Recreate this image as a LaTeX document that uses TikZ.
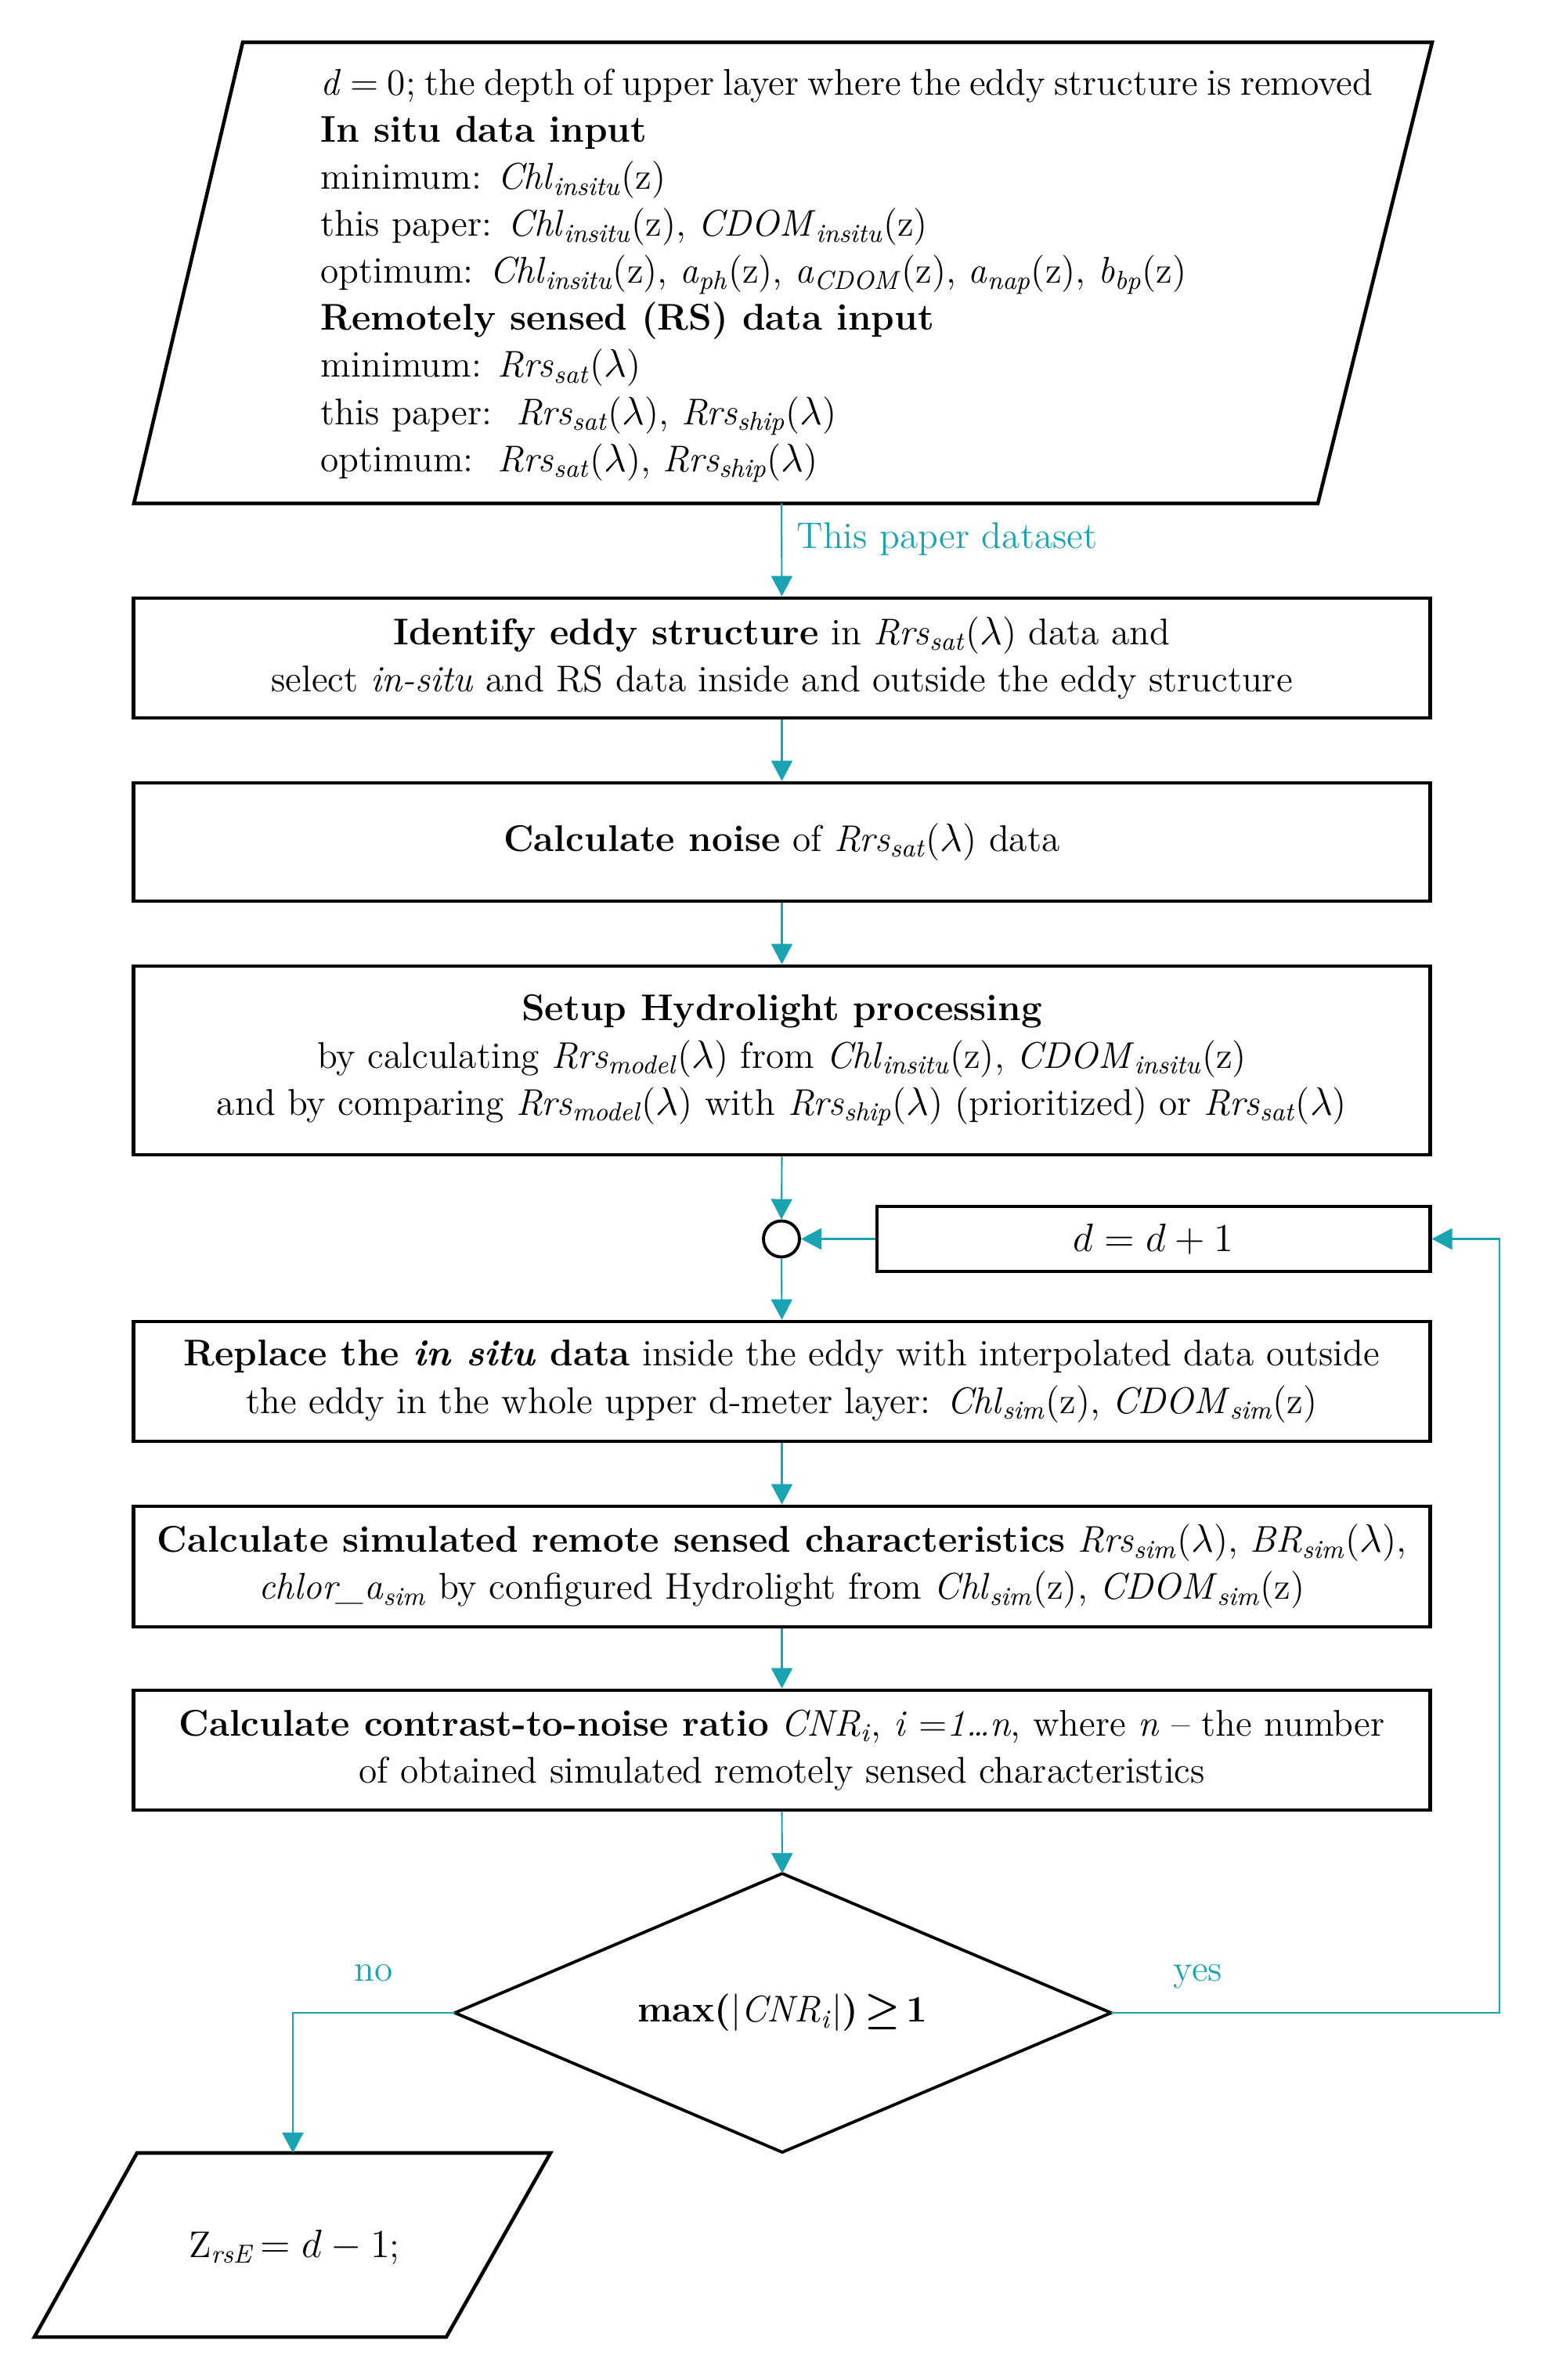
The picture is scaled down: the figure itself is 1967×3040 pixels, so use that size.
\documentclass[tikz,border=0pt]{standalone}
\usetikzlibrary{shapes.geometric,arrows.meta}
\definecolor{teal1}{RGB}{26,163,179}
\newcommand{\vsub}[2]{\textit{#1}\textsubscript{\textit{#2}}}
\begin{document}
\begin{tikzpicture}[x=0.01cm,y=-0.01cm,
  every node/.style={font=\fontsize{13.5}{17.1}\selectfont},
  box/.style={draw, line width=1.3pt, minimum width=16.55cm, align=center, inner sep=0pt},
  outline/.style={draw, line width=1.3pt},
  conn/.style={draw=teal1, line width=0.6pt, -{Triangle[length=0.26cm,width=0.27cm]}},
  lbl/.style={text=teal1}]
\useasboundingbox (0,0) rectangle (1967,3040);
% top input parallelogram
\coordinate (p1) at (310,54);
\coordinate (p2) at (1829,54);
\coordinate (p3) at (1683,643);
\coordinate (p4) at (171,643);
\draw[outline] (p1) -- (p2) -- (p3) -- (p4) -- cycle;
\coordinate (inbot) at (998,643);
\node[anchor=west, align=left, inner sep=0pt] (intext) at (409,352) {%
{\spaceskip=0.24em plus 0.1em minus 0.05em \textit{d} = 0; the depth of upper layer where the eddy structure is removed}\\
\textbf{In situ data input}\\
minimum: \vsub{Chl}{insitu}(z)\\
this paper: \vsub{Chl}{insitu}(z), \vsub{CDOM}{insitu}(z)\\
optimum: \vsub{Chl}{insitu}(z), \vsub{a}{ph}(z), \vsub{a}{CDOM}(z), \vsub{a}{nap}(z), \vsub{b}{bp}(z)\\
\textbf{Remotely sensed (RS) data input}\\
minimum: \vsub{Rrs}{sat}($\lambda$)\\
this paper:\ \ \vsub{Rrs}{sat}($\lambda$), \vsub{Rrs}{ship}($\lambda$)\\
optimum:\ \ \vsub{Rrs}{sat}($\lambda$), \vsub{Rrs}{ship}($\lambda$)};
% boxes
\node[box, minimum height=1.53cm] (b1) at (998.5,840.5) {\textbf{Identify eddy structure} in \vsub{Rrs}{sat}($\lambda$) data and\\ select \textit{in-situ} and RS data inside and outside the eddy structure};
\node[box, minimum height=1.51cm] (b2) at (998.5,1075.5) {\textbf{Calculate noise} of \vsub{Rrs}{sat}($\lambda$) data};
\node[box, minimum height=2.41cm] (b3) at (998.5,1354.5) {\textbf{Setup Hydrolight processing}\\ by calculating \vsub{Rrs}{model}($\lambda$) from \vsub{Chl}{insitu}(z), \vsub{CDOM}{insitu}(z)\\ and by comparing \vsub{Rrs}{model}($\lambda$) with \vsub{Rrs}{ship}($\lambda$) (prioritized) or \vsub{Rrs}{sat}($\lambda$)};
\node[circle, draw, line width=1.1pt, minimum size=0.46cm, inner sep=0pt] (c) at (998,1582.5) {};
\node[box, minimum width=7.06cm, minimum height=0.83cm] (db) at (1473,1582.5) {$d = d + 1$};
\node[box, minimum height=1.53cm] (b4) at (998.5,1764.5) {\textbf{Replace the \textit{in situ} data} inside the eddy with interpolated data outside\\ the eddy in the whole upper d-meter layer: \vsub{Chl}{sim}(z), \vsub{CDOM}{sim}(z)};
\node[box, minimum height=1.54cm] (b5) at (998.5,2001) {\textbf{Calculate simulated remote sensed characteristics} \vsub{Rrs}{sim}($\lambda$), \vsub{BR}{sim}($\lambda$),\\ \vsub{chlor\_a}{sim} by configured Hydrolight from \vsub{Chl}{sim}(z), \vsub{CDOM}{sim}(z)};
\node[box, minimum height=1.53cm] (b6) at (998.5,2235.5) {\textbf{Calculate contrast-to-noise ratio} \vsub{CNR}{i}, \textit{i} =\textit{1\ldots n}, where \textit{n} -- the number\\ of obtained simulated remotely sensed characteristics};
% decision diamond
\coordinate (dmT) at (999,2393);
\coordinate (dmR) at (1419,2571);
\coordinate (dmB) at (999,2749);
\coordinate (dmL) at (581,2571);
\draw[line width=1.1pt, line join=miter] (dmT) -- (dmR) -- (dmB) -- (dmL) -- cycle;
\node (dm) at (999,2571) {\textbf{max(}|\textit{CNR}\textsubscript{\textit{i}}|\textbf{)}\,{\boldmath$\geq$}\,\textbf{1}};
% output parallelogram
\coordinate (q1) at (175,2750);
\coordinate (q2) at (703,2750);
\coordinate (q3) at (570,2985);
\coordinate (q4) at (44,2985);
\draw[outline] (q1) -- (q2) -- (q3) -- (q4) -- cycle;
\node (zt) at (376,2870) {Z\textsubscript{\textit{rsE}}\,$= d - 1$;};
\coordinate (ztop) at (374,2750);
\coordinate (yr) at (1915,2571);
% connectors
\draw[conn] (inbot) -- (b1.north);
\node[lbl, anchor=base west] (l1) at (1005,700) {This paper dataset};
\draw[conn] (b1.south) -- (b2.north);
\draw[conn] (b2.south) -- (b3.north);
\draw[conn] (b3.south) -- (c.north);
\draw[conn] (db.west) -- (c.east);
\draw[conn] (c.south) -- (b4.north);
\draw[conn] (b4.south) -- (b5.north);
\draw[conn] (b5.south) -- (b6.north);
\draw[conn] (b6.south) -- (dmT);
\draw[conn] (dmR) -- (yr) |- (db.east);
\draw[conn] (dmL) -| (ztop);
\node[lbl, anchor=base] (no) at (477,2530) {no};
\node[lbl, anchor=base] (yes) at (1530,2530) {yes};
\end{tikzpicture}
\end{document}
